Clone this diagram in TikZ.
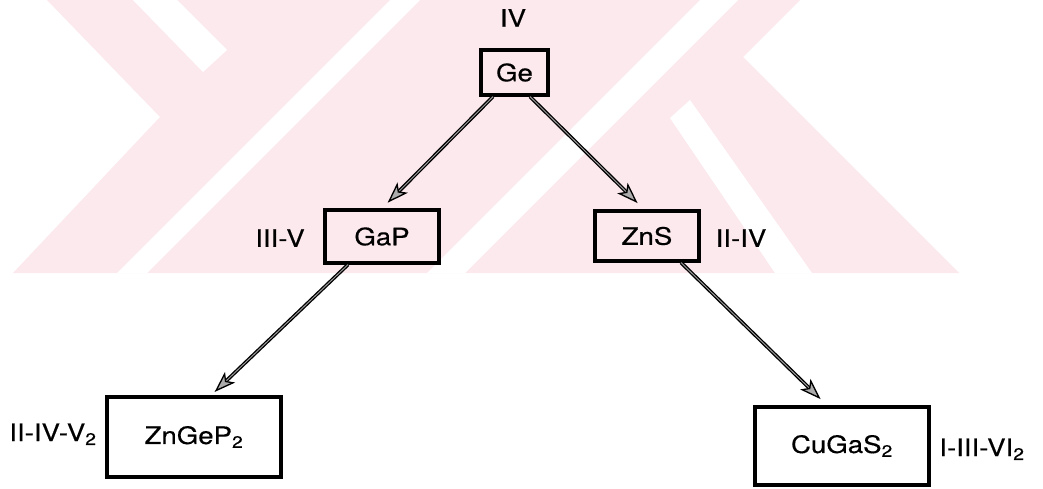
\documentclass[tikz,border=0pt]{standalone}
\usepackage{fontspec}
\setmainfont{TeX Gyre Heros}[FakeStretch=1.15,FakeBold=0.4]
\usetikzlibrary{arrows.meta}
\definecolor{wm}{RGB}{252,233,237}
\begin{document}
\begin{tikzpicture}[x=0.75pt,y=-0.75pt, font=\fontsize{18}{21}\selectfont,
  box/.style={draw, line width=2.4pt, inner sep=0pt},
  lbl/.style={inner sep=0pt},
  arr/.style={line width=1pt, double=gray!75, double distance=0.7pt,
    -{Stealth[length=16pt,width=11pt,inset=4pt,fill=gray!65]}}]
\useasboundingbox (0,0) rectangle (1043,489);
\fill[white] (0,0) rectangle (1043,489);
% faint watermark
\fill[wm] (47,0) -- (800,0) -- (743,57) -- (959,273) -- (13,273) -- (160,117) -- cycle;
\fill[white] (133,0) -- (177,0) -- (227,50) -- (203,72) -- cycle;
\fill[white] (390,0) -- (420,0) -- (147,273) -- (117,273) -- cycle;
\fill[white] (700,0) -- (738,0) -- (465,273) -- (427,273) -- cycle;
\fill[white] (670,118) -- (690,100) -- (812,273) -- (775,273) -- cycle;
% boxes
\node[box, minimum width=50.25pt, minimum height=33.75pt] (Ge) at (514.5,72.5) {Ge};
\node[box, minimum width=85.5pt, minimum height=39.75pt] (GaP) at (382,236.5) {GaP};
\node[box, minimum width=78pt, minimum height=37.5pt] (ZnS) at (647,236) {ZnS};
\node[box, minimum width=130.5pt, minimum height=60pt] (ZnGeP) at (194,437) {ZnGeP\textsubscript{2}};
\node[box, minimum width=130.5pt, minimum height=58.5pt] (CuGaS) at (842,446) {CuGaS\textsubscript{2}};
% labels
\node[lbl] (lIV) at (513,18) {IV};
\node[lbl] (lIIIV) at (280,238) {III-V};
\node[lbl] (lIIIV2) at (741,238) {II-IV};
\node[lbl, anchor=base] (lZnGeP) at (53,441) {II-IV-V\textsubscript{2}};
\node[lbl, anchor=base] (lCuGaS) at (982,456) {I-III-VI\textsubscript{2}};
% arrows
\draw[arr, shorten >=6pt] ([xshift=-16.1pt]Ge.south) -- (GaP.north);
\draw[arr, shorten >=6.75pt] ([xshift=11.6pt]Ge.south) -- ([xshift=-2.25pt]ZnS.north);
\draw[arr, shorten >=3.75pt] ([xshift=-25.5pt]GaP.south) -- ([xshift=12.75pt]ZnGeP.north);
\draw[arr, shorten >=6.75pt] ([xshift=25.5pt]ZnS.south) -- ([xshift=-11.25pt]CuGaS.north);
\end{tikzpicture}
\end{document}
